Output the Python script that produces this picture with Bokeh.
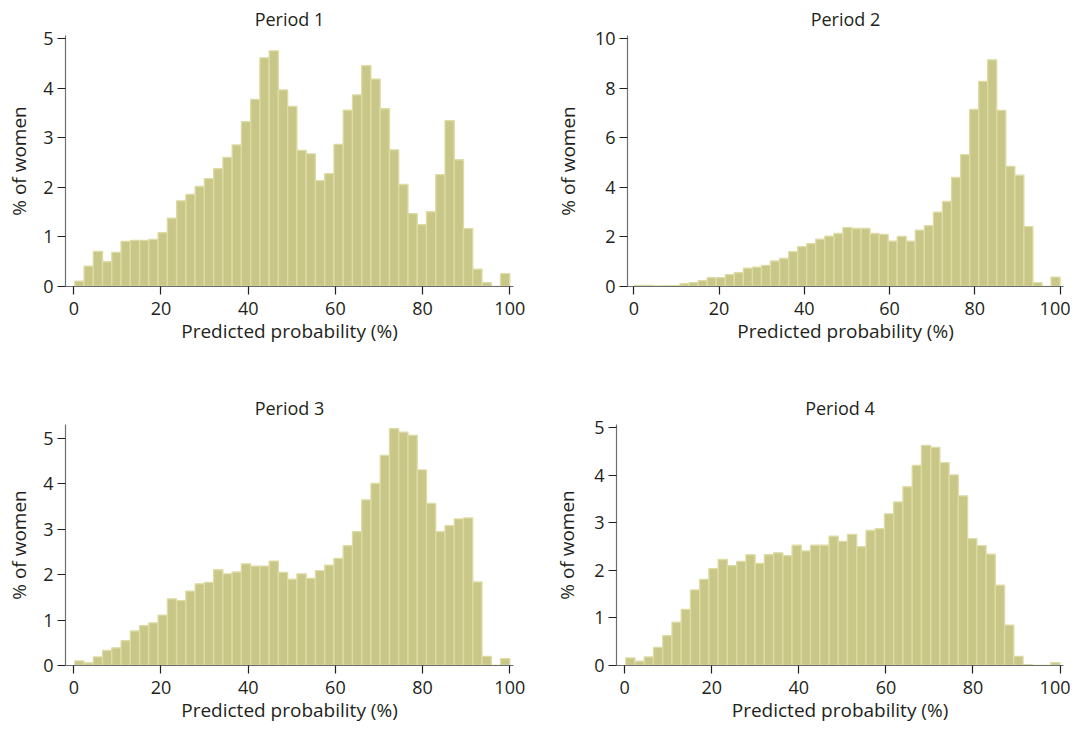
import numpy as np
from bokeh.plotting import figure
from bokeh.layouts import column, row
from bokeh.models import Range1d, FixedTicker, Spacer
from bokeh.embed import file_html
from bokeh.resources import INLINE

# ---- data -------------------------------------------------------------
period_titles = ["Period 1", "Period 2", "Period 3", "Period 4"]
x_label = "Predicted probability (%)"
y_label = "% of women"
x_ticks = [0, 20, 40, 60, 80, 100]

# histogram binning (47 bins spanning the observed predicted probabilities)
bin_lo = 0.23
bin_hi = 100.0
n_bins = 47

period1 = [0.11, 0.41, 0.71, 0.50, 0.69, 0.91, 0.93, 0.93, 0.95, 1.09,
           1.38, 1.73, 1.86, 2.02, 2.18, 2.38, 2.61, 2.86, 3.33, 3.78,
           4.62, 4.76, 3.97, 3.64, 2.75, 2.68, 2.14, 2.28, 2.87, 3.56,
           3.87, 4.46, 4.19, 3.59, 2.76, 2.06, 1.47, 1.25, 1.51, 2.26,
           3.35, 2.56, 1.17, 0.35, 0.08, 0.0, 0.26]
period2 = [0.04, 0.04, 0.02, 0.03, 0.03, 0.12, 0.16, 0.24, 0.36, 0.36,
           0.48, 0.56, 0.74, 0.78, 0.85, 1.03, 1.13, 1.41, 1.61, 1.73,
           1.91, 2.03, 2.14, 2.38, 2.34, 2.34, 2.14, 2.10, 1.83, 2.02,
           1.83, 2.27, 2.46, 3.00, 3.43, 4.40, 5.32, 7.15, 8.28, 9.15,
           7.11, 4.85, 4.49, 2.42, 0.16, 0.0, 0.38]
period3 = [0.10, 0.06, 0.19, 0.33, 0.39, 0.55, 0.76, 0.88, 0.94, 1.11,
           1.47, 1.43, 1.64, 1.80, 1.83, 2.11, 2.02, 2.06, 2.24, 2.19,
           2.19, 2.30, 2.05, 1.90, 2.02, 1.92, 2.09, 2.21, 2.36, 2.64,
           2.95, 3.65, 4.01, 4.63, 5.22, 5.14, 5.07, 4.31, 3.57, 2.95,
           3.08, 3.23, 3.25, 1.84, 0.20, 0.0, 0.15]
period4 = [0.16, 0.09, 0.18, 0.38, 0.63, 0.91, 1.18, 1.59, 1.81, 2.04,
           2.23, 2.10, 2.19, 2.33, 2.15, 2.33, 2.37, 2.31, 2.53, 2.41,
           2.53, 2.53, 2.72, 2.61, 2.76, 2.50, 2.84, 2.88, 3.19, 3.44,
           3.76, 4.21, 4.63, 4.59, 4.27, 4.01, 3.57, 2.67, 2.52, 2.34,
           1.69, 0.85, 0.19, 0.02, 0.0, 0.0, 0.06]

y_ticks_small = [0, 1, 2, 3, 4, 5]
y_ticks_p2 = [0, 2, 4, 6, 8, 10]

# ---- styling ----------------------------------------------------------
FONT = "Open Sans"
TEXT = "#231f20"
FILL = "#c9c788"
EDGE = "#dddca5"
AXIS = "#6d6e71"

edges = np.linspace(bin_lo, bin_hi, n_bins + 1)


def make_panel(values, title, y_end, y_ticks, x_start, x_end,
               width, height, br, bb, ylab_standoff):
    p = figure(width=width, height=height,
               x_range=Range1d(x_start, x_end), y_range=Range1d(0, y_end),
               output_backend="svg", toolbar_location=None,
               min_border_left=0, min_border_top=0,
               min_border_right=br, min_border_bottom=bb,
               title=title)
    p.title.text_font = FONT
    p.title.text_font_size = "18px"
    p.title.text_font_style = "normal"
    p.title.text_color = TEXT
    p.title.align = "center"
    p.title.standoff = 9

    p.quad(left=edges[:-1], right=edges[1:], bottom=0, top=values,
           fill_color=FILL, line_color=EDGE, line_width=1.3)

    p.xaxis.ticker = FixedTicker(ticks=x_ticks)
    p.yaxis.ticker = FixedTicker(ticks=y_ticks)
    for ax in (p.xaxis[0], p.yaxis[0]):
        ax.axis_line_color = AXIS
        ax.axis_line_width = 1.2
        ax.major_tick_line_color = TEXT
        ax.major_tick_line_width = 1.2
        ax.major_tick_in = 0
        ax.major_tick_out = 8
        ax.minor_tick_line_color = None
        ax.major_label_text_font = FONT
        ax.major_label_text_font_size = "18px"
        ax.major_label_text_color = TEXT
        ax.axis_label_text_font = FONT
        ax.axis_label_text_font_size = "19px"
        ax.axis_label_text_font_style = "normal"
        ax.axis_label_text_color = TEXT
    p.xaxis.axis_label = x_label
    p.yaxis.axis_label = y_label
    p.xaxis.major_label_standoff = 7
    p.xaxis.axis_label_standoff = 0
    p.yaxis.major_label_standoff = 4
    p.yaxis.axis_label_standoff = ylab_standoff

    p.xgrid.grid_line_color = None
    p.ygrid.grid_line_color = None
    p.outline_line_color = None
    p.background_fill_color = "white"
    p.border_fill_color = "white"
    return p


p1 = make_panel(period1, period_titles[0], 5.07, y_ticks_small, -1.9, 100.85,
                548, 389, 38, 103, 8)
p2 = make_panel(period2, period_titles[1], 10.13, y_ticks_p2, -1.48, 100.8,
                519, 389, 7, 103, 11)
p3 = make_panel(period3, period_titles[2], 5.31, y_ticks_small, -1.9, 100.85,
                548, 336, 38, 0, 8)
p4 = make_panel(period4, period_titles[3], 5.07, y_ticks_small, -1.9, 100.8,
                519, 336, 7, 0, 11)

layout = column(row(Spacer(width=3, height=389), p1, p2),
                row(Spacer(width=3, height=336), p3, p4))

open("out.html", "w").write(file_html(layout, INLINE))
